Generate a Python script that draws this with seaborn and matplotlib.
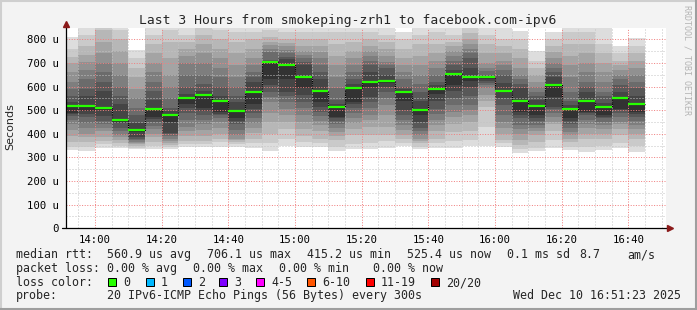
import numpy as np
import pandas as pd
import matplotlib
matplotlib.use("Agg")
import matplotlib.pyplot as plt
import matplotlib.dates as mdates
from matplotlib.ticker import MultipleLocator, FuncFormatter
from matplotlib.patches import Rectangle
from matplotlib.lines import Line2D
import seaborn as sns

# ---------------- data (values in microseconds) ----------------
title = "Last 3 Hours from smokeping-zrh1 to facebook.com-ipv6"
bar_start = pd.date_range("2025-12-10 13:50", periods=35, freq="5min")
window = ("2025-12-10 13:51:23", "2025-12-10 16:51:23")

median_rtt = [518, 518, 509, 460, 415, 505, 480, 551, 564, 540, 496, 577,
              705, 693, 640, 582, 513, 596, 620, 625, 577, 502, 590, 654,
              640, 640, 582, 540, 518, 607, 505, 540, 513, 551, 526]

# sorted pings 1..10 for each 5-minute round
smoke_lo = [
    [330, 345, 365, 392, 418, 440, 460, 475, 483, 490],
    [328, 345, 365, 385, 400, 425, 445, 470, 485, 495],
    [341, 355, 370, 385, 410, 425, 440, 455, 475, 500],
    [341, 350, 360, 375, 385, 395, 410, 425, 445, 452],
    [336, 342, 348, 355, 360, 365, 372, 380, 388, 408],
    [334, 350, 365, 385, 400, 420, 435, 450, 462, 472],
    [334, 345, 352, 360, 370, 380, 390, 400, 405, 451],
    [345, 355, 370, 390, 410, 430, 460, 490, 510, 528],
    [345, 355, 370, 390, 415, 440, 460, 480, 495, 510],
    [345, 365, 380, 400, 425, 451, 465, 478, 485, 493],
    [345, 355, 365, 372, 380, 395, 415, 440, 455, 465],
    [339, 360, 380, 405, 423, 445, 465, 486, 505, 528],
    [328, 360, 400, 451, 490, 535, 555, 578, 605, 634],
    [348, 380, 420, 450, 480, 507, 535, 560, 578, 634],
    [345, 365, 390, 420, 451, 480, 510, 535, 565, 592],
    [345, 360, 380, 410, 437, 455, 475, 493, 515, 535],
    [328, 345, 373, 390, 408, 425, 440, 455, 465, 472],
    [334, 355, 394, 420, 445, 465, 490, 510, 525, 535],
    [334, 360, 394, 430, 460, 479, 510, 535, 557, 600],
    [339, 370, 394, 430, 479, 520, 550, 578, 600, 615],
    [350, 362, 380, 394, 415, 437, 460, 479, 500, 540],
    [334, 345, 360, 370, 380, 395, 410, 423, 450, 480],
    [339, 360, 380, 410, 437, 460, 485, 507, 540, 570],
    [339, 370, 408, 440, 470, 493, 520, 550, 580, 606],
    [348, 375, 410, 451, 480, 500, 521, 560, 600, 625],
    [348, 430, 514, 540, 565, 592, 605, 615, 625, 632],
    [345, 360, 373, 400, 425, 451, 480, 521, 550, 575],
    [317, 335, 352, 373, 400, 420, 437, 465, 480, 493],
    [327, 342, 366, 394, 410, 425, 437, 455, 468, 479],
    [341, 373, 410, 440, 451, 470, 490, 505, 514, 557],
    [330, 345, 366, 380, 395, 408, 425, 440, 455, 465],
    [323, 345, 380, 400, 423, 440, 460, 478, 488, 493],
    [330, 350, 380, 400, 420, 437, 450, 465, 472, 479],
    [341, 360, 394, 420, 440, 451, 470, 490, 500, 507],
    [323, 350, 380, 400, 420, 437, 455, 470, 485, 493],
]
# sorted pings 11..20 for each round
smoke_hi = [
    [518, 535, 560, 590, 620, 660, 700, 725, 760, 810],
    [518, 560, 590, 630, 670, 705, 735, 770, 820, 870],
    [509, 580, 620, 660, 700, 740, 790, 840, 870, 900],
    [460, 525, 560, 600, 650, 700, 750, 800, 840, 880],
    [415, 445, 480, 510, 550, 590, 640, 680, 720, 755],
    [505, 545, 580, 620, 660, 700, 740, 780, 820, 870],
    [480, 495, 510, 550, 600, 650, 720, 790, 840, 870],
    [551, 570, 600, 650, 700, 730, 760, 790, 820, 860],
    [564, 580, 610, 650, 700, 740, 780, 820, 850, 870],
    [540, 560, 600, 640, 680, 720, 760, 800, 840, 870],
    [496, 535, 560, 600, 640, 690, 740, 790, 830, 860],
    [577, 620, 640, 660, 690, 720, 760, 800, 830, 860],
    [705, 708, 712, 745, 760, 775, 790, 810, 840, 860],
    [693, 715, 725, 740, 755, 770, 785, 800, 830, 860],
    [640, 690, 705, 720, 735, 750, 770, 800, 830, 870],
    [582, 634, 660, 690, 720, 745, 770, 800, 830, 860],
    [513, 525, 545, 592, 640, 690, 730, 780, 830, 860],
    [596, 610, 630, 662, 690, 720, 750, 790, 830, 860],
    [620, 660, 690, 710, 730, 750, 770, 800, 830, 860],
    [625, 650, 677, 690, 705, 730, 760, 790, 820, 870],
    [577, 590, 600, 634, 660, 690, 720, 760, 800, 830],
    [502, 540, 578, 610, 648, 690, 730, 780, 820, 860],
    [590, 605, 620, 648, 680, 710, 740, 780, 830, 860],
    [654, 672, 691, 710, 730, 750, 770, 790, 820, 860],
    [640, 680, 719, 740, 760, 780, 800, 825, 850, 880],
    [640, 645, 650, 665, 677, 700, 740, 780, 820, 860],
    [582, 615, 648, 670, 690, 710, 740, 770, 800, 850],
    [540, 592, 610, 630, 650, 680, 720, 760, 800, 835],
    [518, 542, 560, 578, 600, 620, 650, 680, 710, 750],
    [607, 641, 660, 680, 700, 720, 745, 770, 800, 830],
    [505, 520, 540, 578, 640, 690, 730, 780, 830, 860],
    [540, 578, 600, 620, 660, 700, 740, 780, 830, 860],
    [513, 530, 560, 578, 620, 660, 700, 740, 780, 860],
    [551, 575, 606, 630, 650, 670, 690, 710, 740, 772],
    [526, 560, 592, 620, 650, 680, 710, 740, 770, 805],
]

legend_rows = [
    ("median rtt:", [("560.9 us avg", 107.3), ("706.1 us max", 207.3), ("415.2 us min", 306.7),
                     ("525.4 us now", 406.7), ("0.1 ms sd", 506.7), ("8.7", 579.0), ("am/s", 627.0)]),
    ("packet loss:", [("0.00 % avg", 107.3), ("0.00 % max", 193.3), ("0.00 % min", 279.3),
                      ("0.00 % now", 373.3)]),
]
loss_labels = ["0", "1", "2", "3", "4-5", "6-10", "11-19", "20/20"]
loss_colors = ["#26ff00", "#00b8ff", "#0059ff", "#7e00ff", "#ff00ff", "#ff5500", "#ff0000", "#a10000"]
loss_box_x = [108.3, 146.0, 182.7, 219.3, 256.0, 307.3, 365.7, 430.7]
probe_text = "20 IPv6-ICMP Echo Pings (56 Bytes) every 300s"
stamp_text = "Wed Dec 10 16:51:23 2025"

# ---------------- figure ----------------
sns.set_style("white")
plt.rcParams['font.family'] = ['DejaVu Sans Mono', 'DejaVu Sans']

W, H = 697, 310
fig = plt.figure(figsize=(W / 100, H / 100), dpi=100, facecolor="#f3f3f3")


def fx(px):
    return px / W


def fy(py):
    return 1 - py / H


ax = fig.add_axes([fx(66.3), fy(228.3), 600 / W, 200 / H])
ax.set_facecolor("white")

starts = mdates.date2num(bar_start.to_pydatetime())
width = 5 / 1440.0
lo = np.array(smoke_lo, dtype=float)
hi = np.array(smoke_hi, dtype=float)
med = np.array(median_rtt, dtype=float)

for k in range(10):
    g = (221 - 19 * k) / 255.0
    bottom = lo[:, k]
    top = hi[:, 9 - k]
    ax.bar(starts, top - bottom, bottom=bottom, width=width, align="edge",
           color=(g, g, g), linewidth=0, antialiased=False, zorder=1)

# median: dotted black step line + green segments (loss 0)
xs = np.append(starts, starts[-1] + width)
ys = np.append(med, med[-1])
sns.lineplot(x=xs, y=ys, drawstyle="steps-post", color="black", linestyle=(0, (1, 1)),
             linewidth=0.8, ax=ax, zorder=3, estimator=None, sort=False)
ax.hlines(med, starts, starts + width, colors=loss_colors[0], linewidth=1.6, zorder=4)

x0 = mdates.date2num(pd.Timestamp(window[0]).to_pydatetime())
x1 = mdates.date2num(pd.Timestamp(window[1]).to_pydatetime())
ax.set_xlim(x0, x1)
ax.set_ylim(0, 846.6)
ax.set_xlabel("")
ax.set_ylabel("")

ax.xaxis.set_major_locator(mdates.MinuteLocator(byminute=[0, 20, 40]))
ax.xaxis.set_minor_locator(mdates.MinuteLocator(byminute=list(range(0, 60, 5))))
ax.xaxis.set_major_formatter(mdates.DateFormatter("%H:%M"))
ax.yaxis.set_major_locator(MultipleLocator(100))
ax.yaxis.set_minor_locator(MultipleLocator(50))
ax.yaxis.set_major_formatter(FuncFormatter(lambda v, p: "0" if v == 0 else f"{v:.0f} u"))

ax.set_axisbelow(False)
ax.grid(which="major", color="#f08080", linestyle=(0, (1, 1.6)), linewidth=0.72)
ax.grid(which="minor", color="#c4c4c4", linestyle=(0, (1, 2)), linewidth=0.72)

ax.tick_params(which="major", length=2.2, width=0.72, color="#f08080", labelsize=7.7,
               labelcolor="black")
ax.tick_params(which="minor", length=2.2, width=0.72, color="#c4c4c4")
ax.tick_params(axis="y", which="major", pad=3.5)
ax.tick_params(axis="x", which="major", pad=2.5)
for s in ["top", "right", "left", "bottom"]:
    ax.spines[s].set_visible(False)

# axes lines with arrows
fig.add_artist(Line2D([fx(66.3), fx(66.3)], [fy(228.3), fy(24)], color="black", lw=0.9))
fig.add_artist(Line2D([fx(62), fx(668)], [fy(228.3), fy(228.3)], color="black", lw=0.9))
fig.add_artist(Line2D([fx(66.3)], [fy(23.5)], marker="^", markersize=4.5, color="#8b1a1a", lw=0))
fig.add_artist(Line2D([fx(669.5)], [fy(228.3)], marker=">", markersize=4.5, color="#8b1a1a", lw=0))

# texts
fig.text(fx(347.3), fy(24), title, ha="center", va="baseline", fontsize=9.4)
fig.text(fx(10.5), fy(127), "Seconds", rotation=90, ha="center", va="center",
         fontsize=8, family="DejaVu Sans")
fig.text(fx(687.5), fy(5), "RRDTOOL / TOBI OETIKER", rotation=270, ha="center", va="top",
         fontsize=6, color="#b4b4b4")

fs = 8.4
base = [258.3, 271.7, 286.0, 299.3]
for (head, items), yb in zip(legend_rows, base[:2]):
    fig.text(fx(16), fy(yb), head, fontsize=fs, va="baseline")
    for txt, xp in items:
        fig.text(fx(xp), fy(yb), txt, fontsize=fs, va="baseline")

fig.text(fx(16), fy(base[2]), "loss color:", fontsize=fs, va="baseline")
for lab, col, bx in zip(loss_labels, loss_colors, loss_box_x):
    fig.add_artist(Rectangle((fx(bx), fy(286.3)), 8 / W, 8 / H, facecolor=col,
                             edgecolor="black", linewidth=0.72, transform=fig.transFigure))
    fig.text(fx(bx + 15), fy(base[2]), lab, fontsize=fs, va="baseline")

fig.text(fx(16), fy(base[3]), "probe:", fontsize=fs, va="baseline")
fig.text(fx(107.3), fy(base[3]), probe_text, fontsize=fs, va="baseline")
fig.text(fx(512.7), fy(base[3]), stamp_text, fontsize=fs, va="baseline")

# 3D border
fig.add_artist(Line2D([0, 1], [fy(1), fy(1)], color="#cfcfcf", lw=1.5))
fig.add_artist(Line2D([fx(1), fx(1)], [0, 1], color="#cfcfcf", lw=1.5))
fig.add_artist(Line2D([0, 1], [fy(309), fy(309)], color="#9e9e9e", lw=1.5))
fig.add_artist(Line2D([fx(696), fx(696)], [0, 1], color="#9e9e9e", lw=1.5))

fig.savefig("out.png", dpi=100, facecolor=fig.get_facecolor())
